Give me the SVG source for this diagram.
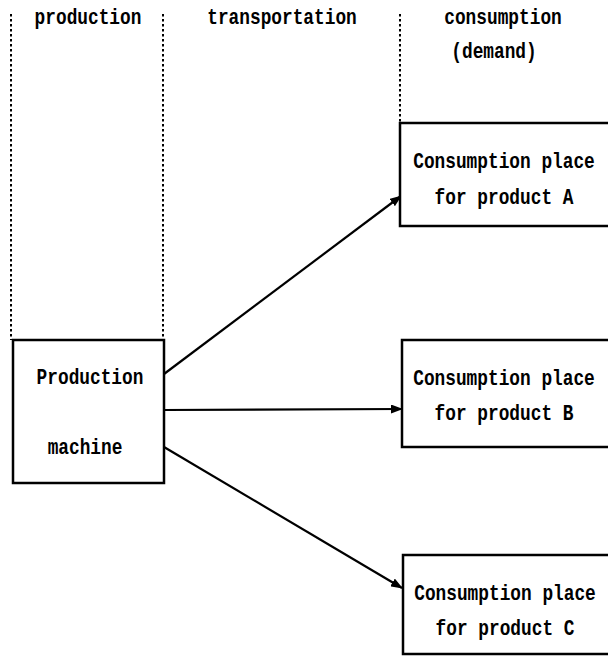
<svg xmlns="http://www.w3.org/2000/svg" width="608" height="661" viewBox="0 0 608 661">
<style>
text{font-family:"Liberation Mono","DejaVu Sans Mono",monospace;font-weight:bold;font-size:17.8px;fill:#000;text-anchor:middle}
.box{fill:#fff;stroke:#000;stroke-width:2.5}
.div{stroke:#000;stroke-width:2;stroke-dasharray:2.5,2.5}
.conn{stroke:#000;stroke-width:2.2;fill:none;marker-end:url(#ah)}
</style>
<defs>
<marker id="ah" markerWidth="12" markerHeight="9" refX="11" refY="4.5" orient="auto" markerUnits="userSpaceOnUse">
<path d="M0,0 L12,4.5 L0,9 Z" fill="#000"/>
</marker>
</defs>
<rect width="608" height="661" fill="#fff"/>
<g id="dividers">
<line class="div" x1="11" y1="14" x2="11" y2="340"/>
<line class="div" x1="163" y1="14" x2="163" y2="340"/>
<line class="div" x1="400" y1="14" x2="400" y2="122"/>
</g>
<g id="headers">
<text transform="translate(88,24) scale(1,1.2)">production</text>
<text transform="translate(282,24) scale(1,1.2)">transportation</text>
<text transform="translate(503,24) scale(1,1.2)">consumption</text>
<text transform="translate(494,58) scale(1,1.2)">(demand)</text>
</g>
<g id="connectors">
<line class="conn" x1="164" y1="374" x2="401" y2="196"/>
<line class="conn" x1="164" y1="410" x2="402" y2="409"/>
<line class="conn" x1="164" y1="447" x2="402" y2="588"/>
</g>
<g id="production-machine">
<rect class="box" x="13" y="340" width="151" height="143"/>
<text transform="translate(90,384) scale(1,1.2)">Production</text>
<text transform="translate(85,454) scale(1,1.2)">machine</text>
</g>
<g id="consumption-a">
<rect class="box" x="400" y="123" width="230" height="103"/>
<text transform="translate(504,168) scale(1,1.2)">Consumption place</text>
<text transform="translate(504,204) scale(1,1.2)">for product A</text>
</g>
<g id="consumption-b">
<rect class="box" x="402" y="340" width="230" height="107"/>
<text transform="translate(504,385) scale(1,1.2)">Consumption place</text>
<text transform="translate(504,420) scale(1,1.2)">for product B</text>
</g>
<g id="consumption-c">
<rect class="box" x="403" y="555" width="230" height="99"/>
<text transform="translate(505,600) scale(1,1.2)">Consumption place</text>
<text transform="translate(505,635) scale(1,1.2)">for product C</text>
</g>
</svg>
